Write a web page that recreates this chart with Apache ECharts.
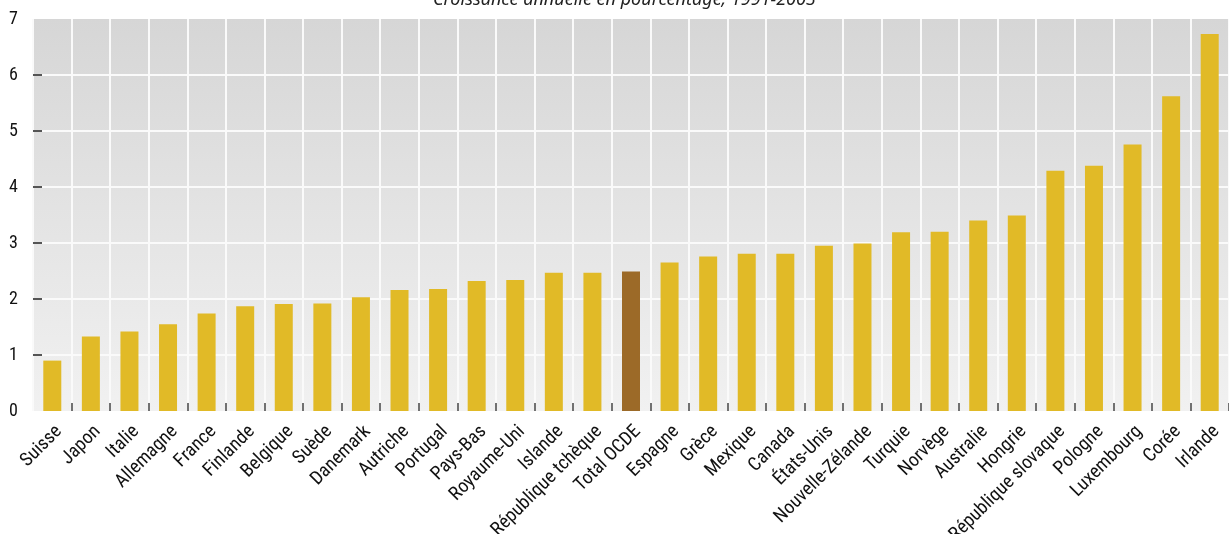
<!DOCTYPE html>
<html>
<head>
<meta charset="utf-8">
<script src="https://cdn.jsdelivr.net/npm/echarts@6/dist/echarts.min.js"></script>
<style>
html,body{margin:0;padding:0;background:#fff;}
#chart{width:1229px;height:534px;}
</style>
</head>
<body>
<div id="chart"></div>
<script>
const titleText = 'Croissance annuelle en pourcentage, 1991-2003';
const categories = ['Suisse','Japon','Italie','Allemagne','France','Finlande','Belgique','Suède','Danemark','Autriche','Portugal','Pays-Bas','Royaume-Uni','Islande','République tchèque','Total OCDE','Espagne','Grèce','Mexique','Canada','États-Unis','Nouvelle-Zélande','Turquie','Norvège','Australie','Hongrie','République slovaque','Pologne','Luxembourg','Corée','Irlande'];
const values = [0.90,1.33,1.42,1.55,1.74,1.87,1.91,1.92,2.03,2.16,2.18,2.32,2.34,2.47,2.47,2.49,2.65,2.76,2.81,2.81,2.95,2.99,3.19,3.20,3.40,3.49,4.29,4.38,4.76,5.62,6.73];
const highlight = ['Total OCDE'];
const yTicks = [0,1,2,3,4,5,6,7];
const yTickMarks = [1,2,3,4,5,6];

const barColor = '#E1BA27';
const hiColor = '#9C6A28';
const font = "'Liberation Sans Narrow','Roboto Condensed','Arial Narrow',Roboto,sans-serif";

const chart = echarts.init(document.getElementById('chart'), null, {renderer:'canvas'});
chart.setOption({
  animation:false,
  title:{
    text:titleText, left:428, top:-14,
    textStyle:{fontFamily:"'Noto Sans',sans-serif", fontStyle:'italic', fontWeight:'normal', fontSize:18, color:'#222'}
  },
  grid:{
    left:33, right:0, top:19, bottom:123, show:true, borderWidth:0,
    containLabel:false, outerBoundsMode:'none',
    backgroundColor:{type:'linear',x:0,y:0,x2:0,y2:1,colorStops:[{offset:0,color:'#d6d6d6'},{offset:1,color:'#f1f1f1'}]}
  },
  xAxis:{
    type:'category', data:categories, boundaryGap:true,
    axisLine:{show:false},
    axisTick:{show:true, inside:true, length:8, interval:(idx)=>idx!==0, lineStyle:{color:'#444', width:1.5}},
    splitLine:{show:true, lineStyle:{color:'#fafafa', width:2}},
    axisLabel:{rotate:45, interval:0, margin:11, verticalAlign:'top', fontFamily:font, fontSize:19, color:'#111'}
  },
  yAxis:{
    type:'value', min:yTicks[0], max:yTicks[yTicks.length-1], interval:1,
    axisLine:{show:false},
    axisTick:{show:true, inside:true, length:9, customValues:yTickMarks, lineStyle:{color:'#555', width:2}},
    splitLine:{show:true, lineStyle:{color:'#fafafa', width:2}},
    axisLabel:{margin:15, fontFamily:font, fontSize:18, color:'#111'}
  },
  series:[{
    type:'bar', barWidth:18,
    data: values.map((v,i)=>({value:v, itemStyle:{color: highlight.includes(categories[i]) ? hiColor : barColor}}))
  }]
});
</script>
</body>
</html>
